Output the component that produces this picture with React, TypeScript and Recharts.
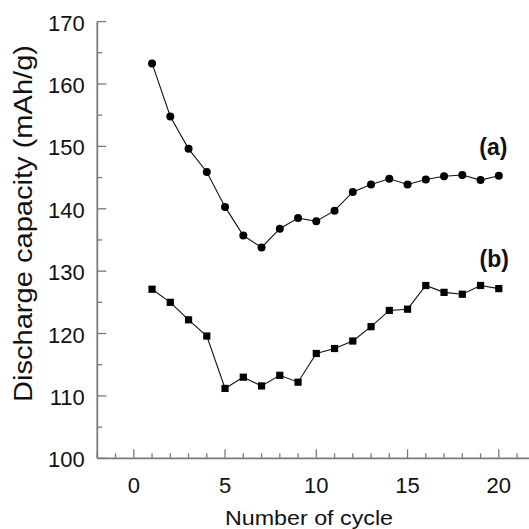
import React from 'react';
import { LineChart, Line, XAxis, YAxis, ReferenceDot, Label } from 'recharts';

const cycles = [1, 2, 3, 4, 5, 6, 7, 8, 9, 10, 11, 12, 13, 14, 15, 16, 17, 18, 19, 20];
const seriesA = [163.3, 154.8, 149.6, 145.9, 140.3, 135.7, 133.8, 136.8, 138.5, 138.0, 139.7, 142.7, 143.9, 144.8, 143.9, 144.7, 145.2, 145.4, 144.6, 145.3];
const seriesB = [127.1, 125.0, 122.2, 119.6, 111.2, 113.0, 111.6, 113.3, 112.2, 116.8, 117.6, 118.8, 121.1, 123.7, 123.9, 127.7, 126.6, 126.3, 127.7, 127.2];
const xAllTicks = [-2, -1, 0, 1, 2, 3, 4, 5, 6, 7, 8, 9, 10, 11, 12, 13, 14, 15, 16, 17, 18, 19, 20, 21, 22];
const xMajorTicks = [0, 5, 10, 15, 20];
const yAllTicks = [100, 105, 110, 115, 120, 125, 130, 135, 140, 145, 150, 155, 160, 165, 170];
const yMajorTicks = [100, 110, 120, 130, 140, 150, 160, 170];
const seriesLabels = ['(a)', '(b)'];
const labelPositions = [
  { x: 19.7, y: 150 },
  { x: 19.75, y: 132 },
];
const xTitle = 'Number of cycle';
const yTitle = 'Discharge capacity (mAh/g)';

const data = cycles.map((c, i) => ({ cycle: c, a: seriesA[i], b: seriesB[i] }));

const AXIS = '#7a7a7a';
const TEXT = '#111';
const FONT = '"Liberation Sans", Arial, Helvetica, sans-serif';

const isMajorX = (v: number) => xMajorTicks.includes(v);
const isMajorY = (v: number) => yMajorTicks.includes(v);

const BottomTick = (props: any) => {
  const { x, y, payload } = props;
  const v = payload.value;
  const major = isMajorX(v);
  return (
    <g>
      <line x1={x} x2={x} y1={y} y2={y - (major ? 9 : 5)} stroke={AXIS} strokeWidth={1.3} />
      {major && (
        <text x={x} y={y + 34.4} textAnchor="middle" fontSize={22} fill={TEXT} fontFamily={FONT}>
          {v}
        </text>
      )}
    </g>
  );
};

const TopTick = (props: any) => {
  const { x, y, payload } = props;
  const major = isMajorX(payload.value);
  return <line x1={x} x2={x} y1={y} y2={y + (major ? 10 : 5)} stroke={AXIS} strokeWidth={1.3} />;
};

const LeftTick = (props: any) => {
  const { x, y, payload } = props;
  const v = payload.value;
  const major = isMajorY(v);
  return (
    <g>
      <line x1={x} x2={x + (major ? 9 : 5)} y1={y} y2={y} stroke={AXIS} strokeWidth={1.3} />
      {major && (
        <text x={x - 12.5} y={y + 9} textAnchor="end" fontSize={22} fill={TEXT} fontFamily={FONT}>
          {v}
        </text>
      )}
    </g>
  );
};

const RightTick = (props: any) => {
  const { x, y, payload } = props;
  const major = isMajorY(payload.value);
  return <line x1={x} x2={x - (major ? 9 : 5)} y1={y} y2={y} stroke={AXIS} strokeWidth={1.3} />;
};

const SquareDot = (props: any) => {
  const { cx, cy, index } = props;
  if (cx == null || cy == null) return <g key={`s-${index}`} />;
  return <rect key={`s-${index}`} x={cx - 3.6} y={cy - 3.6} width={7.2} height={7.2} fill="#000" />;
};

const XTitle = () => (
  <text
    x={309}
    y={525}
    textAnchor="middle"
    fontSize={21}
    fill={TEXT}
    fontFamily={FONT}
    textLength={168}
    lengthAdjust="spacingAndGlyphs"
  >
    {xTitle}
  </text>
);

const YTitle = () => {
  const cx = 32;
  const cy = 223.5;
  return (
    <text
      x={cx}
      y={cy}
      transform={`rotate(-90, ${cx}, ${cy})`}
      textAnchor="middle"
      fontSize={25.5}
      fill={TEXT}
      fontFamily={FONT}
      textLength={357}
      lengthAdjust="spacingAndGlyphs"
    >
      {yTitle}
    </text>
  );
};

export default function App() {
  return (
    <div
      style={{
        position: 'fixed',
        top: 0,
        left: 0,
        width: 529,
        height: 529,
        overflow: 'hidden',
        background: '#fff',
      }}
    >
      <LineChart
        width={560}
        height={529}
        data={data}
        margin={{ top: 21.6, right: 24.7, bottom: 0, left: 0 }}
        style={{ fontFamily: FONT }}
      >
        <XAxis
          xAxisId="bottom"
          orientation="bottom"
          dataKey="cycle"
          type="number"
          domain={[-2, 22]}
          ticks={xAllTicks}
          interval={0}
          tick={<BottomTick />}
          tickLine={false}
          tickSize={0}
          tickMargin={0}
          height={70.7}
          axisLine={{ stroke: AXIS, strokeWidth: 1.8 }}
          allowDataOverflow
        >
          <Label content={<XTitle />} />
        </XAxis>
        <XAxis
          xAxisId="top"
          orientation="top"
          dataKey="cycle"
          type="number"
          domain={[-2, 22]}
          ticks={xAllTicks}
          interval={0}
          tick={<TopTick />}
          tickLine={false}
          tickSize={0}
          tickMargin={0}
          height={0}
          axisLine={{ stroke: AXIS, strokeWidth: 1.8 }}
          allowDataOverflow
        />
        <YAxis
          yAxisId="left"
          orientation="left"
          type="number"
          domain={[100, 170]}
          ticks={yAllTicks}
          interval={0}
          tick={<LeftTick />}
          tickLine={false}
          tickSize={0}
          tickMargin={0}
          width={97.3}
          axisLine={{ stroke: AXIS, strokeWidth: 1.8 }}
          allowDataOverflow
        >
          <Label content={<YTitle />} />
        </YAxis>
        <YAxis
          yAxisId="right"
          orientation="right"
          type="number"
          domain={[100, 170]}
          ticks={yAllTicks}
          interval={0}
          tick={<RightTick />}
          tickLine={false}
          tickSize={0}
          tickMargin={0}
          width={0}
          axisLine={{ stroke: AXIS, strokeWidth: 1.8 }}
          allowDataOverflow
        />
        <Line
          xAxisId="bottom"
          yAxisId="left"
          type="linear"
          dataKey="a"
          stroke="#111"
          strokeWidth={1.1}
          dot={{ r: 4, fill: '#000', stroke: '#000', strokeWidth: 0 }}
          activeDot={false}
          isAnimationActive={false}
        />
        <Line
          xAxisId="top"
          yAxisId="right"
          type="linear"
          dataKey="b"
          stroke="#111"
          strokeWidth={1.1}
          dot={<SquareDot />}
          activeDot={false}
          isAnimationActive={false}
        />
        {seriesLabels.map((lbl, i) => (
          <ReferenceDot
            key={lbl}
            xAxisId="bottom"
            yAxisId="left"
            x={labelPositions[i].x}
            y={labelPositions[i].y}
            r={0}
            fill="none"
            stroke="none"
            label={{ value: lbl, position: 'center', fontSize: 23, fontWeight: 'bold', fill: TEXT, fontFamily: FONT }}
          />
        ))}
      </LineChart>
    </div>
  );
}
